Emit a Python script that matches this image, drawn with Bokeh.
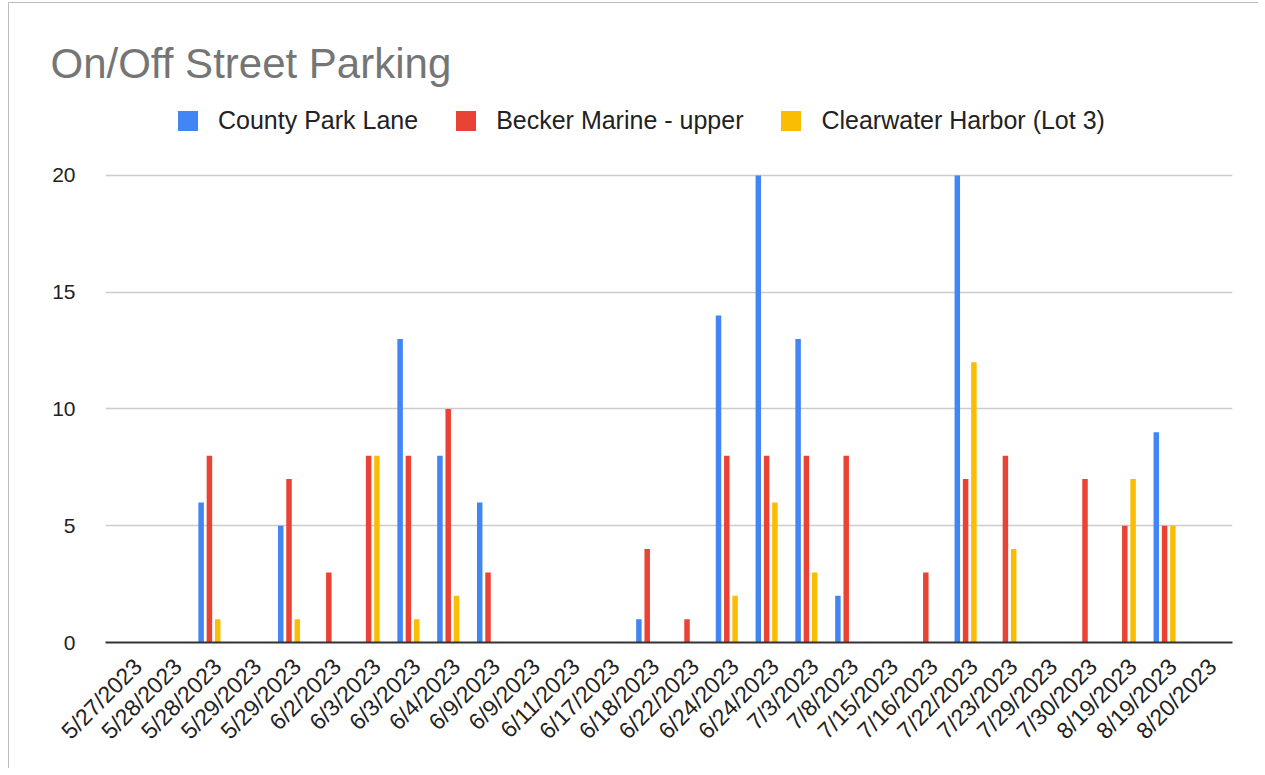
import math
from bokeh.plotting import figure
from bokeh.models import ColumnDataSource, Range1d, FixedTicker, Title
from bokeh.transform import dodge
from bokeh.embed import file_html
from bokeh.resources import INLINE

dates = ["5/27/2023", "5/28/2023", "5/28/2023", "5/29/2023", "5/29/2023", "6/2/2023",
         "6/3/2023", "6/3/2023", "6/4/2023", "6/9/2023", "6/9/2023", "6/11/2023",
         "6/17/2023", "6/18/2023", "6/22/2023", "6/24/2023", "6/24/2023", "7/3/2023",
         "7/8/2023", "7/15/2023", "7/16/2023", "7/22/2023", "7/23/2023", "7/29/2023",
         "7/30/2023", "8/19/2023", "8/19/2023", "8/20/2023"]
county_park_lane = [0, 0, 6, 0, 5, 0, 0, 13, 8, 6, 0, 0, 0, 1, 0, 14, 20, 13, 2, 0, 0, 20, 0, 0, 0, 0, 9, 0]
becker_marine_upper = [0, 0, 8, 0, 7, 3, 8, 8, 10, 3, 0, 0, 0, 4, 1, 8, 8, 8, 8, 0, 3, 7, 8, 0, 7, 5, 5, 0]
clearwater_harbor = [0, 0, 1, 0, 1, 0, 8, 1, 2, 0, 0, 0, 0, 0, 0, 2, 6, 3, 0, 0, 0, 12, 4, 0, 0, 7, 5, 0]
series_names = ["County Park Lane", "Becker Marine - upper", "Clearwater Harbor (Lot 3)"]
y_ticks = [0, 5, 10, 15, 20]

idx = list(range(len(dates)))
src = ColumnDataSource(dict(x=idx, a=county_park_lane, b=becker_marine_upper, c=clearwater_harbor))

FONT = "Liberation Sans"

# frame extends above the 20 gridline so the legend can sit inside it
p = figure(width=1250, height=766, output_backend="svg", toolbar_location=None,
           x_range=Range1d(-0.611, 27.706), y_range=Range1d(0, 23.21),
           min_border_left=96, min_border_right=27, min_border_top=97, min_border_bottom=127)
p.styles = {"margin-left": "8px", "margin-top": "2px",
            "border-top": "1px solid #bdbdbd", "border-left": "1px solid #bdbdbd"}

p.title = Title(text="On/Off Street Parking", text_font=FONT, text_font_size="42px",
                text_color="#757575", text_font_style="normal", align="left",
                offset=-55, standoff=28)

colors = ["#4285F4", "#EA4335", "#FBBC04"]
offs = [-0.2085, 0.0, 0.2085]
for col, c, off, name in zip(["a", "b", "c"], colors, offs, series_names):
    p.vbar(x=dodge("x", off), top=col, width=0.138, source=src, fill_color=c,
           line_color=None, legend_label=name)

p.outline_line_color = None
p.background_fill_color = "white"
p.border_fill_color = "white"

p.xgrid.visible = False
p.ygrid.grid_line_color = "#cccccc"
p.ygrid.grid_line_width = 1.5
p.yaxis.ticker = FixedTicker(ticks=y_ticks)
# rotated labels sit slightly right of each category, as in the reference
label_pos = [i + 0.2 for i in idx]
p.xaxis.ticker = FixedTicker(ticks=label_pos)
p.xaxis.major_label_overrides = {t: d for t, d in zip(label_pos, dates)}
p.xaxis.major_label_orientation = math.pi / 4

for ax in (p.xaxis, p.yaxis):
    ax.major_tick_line_color = None
    ax.minor_tick_line_color = None
    ax.major_tick_out = 0
    ax.major_tick_in = 0
    ax.minor_tick_out = 0
    ax.major_label_text_font = FONT
    ax.major_label_text_color = "#222222"

p.yaxis.major_label_text_font_size = "21px"
p.xaxis.major_label_text_font_size = "23px"
p.yaxis.axis_line_color = None
p.yaxis.major_label_standoff = 30
p.xaxis.axis_line_color = "#333333"
p.xaxis.axis_line_width = 2
p.xaxis.major_label_standoff = 20

lg = p.legend[0]
lg.orientation = "horizontal"
lg.location = (70, 507)
lg.glyph_width = 25
lg.glyph_height = 25
lg.label_standoff = 18
lg.spacing = 35
lg.padding = 0
lg.margin = 0
lg.label_text_font = FONT
lg.label_text_font_size = "25px"
lg.label_text_color = "#222222"
lg.background_fill_alpha = 0
lg.border_line_color = None

open("out.html", "w").write(file_html(p, INLINE))
